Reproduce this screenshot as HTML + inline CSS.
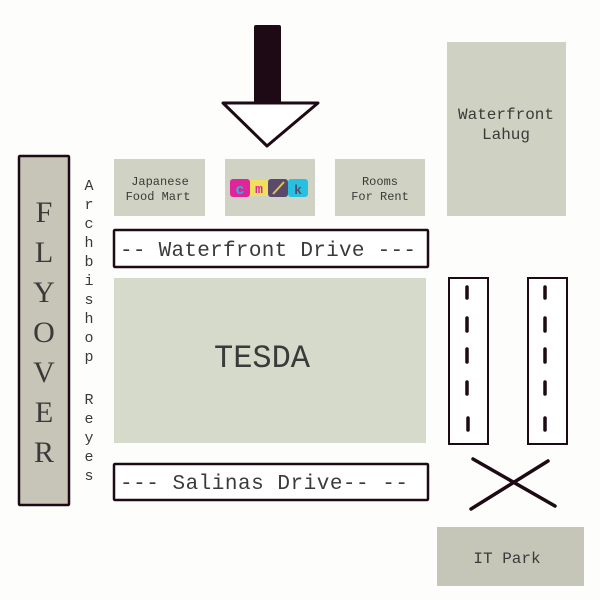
<!DOCTYPE html>
<html><head><style>body{margin:0;background:#fdfdfb}svg{display:block}text{font-family:"Liberation Mono",monospace;fill:#3a3a3a}text.s{font-family:"Liberation Serif",serif}</style></head><body>
<svg width="600" height="600" viewBox="0 0 600 600">
<rect width="600" height="600" fill="#fdfdfb"/>
<rect x="254" y="25" width="27" height="78" rx="2" fill="#1e0a14"/>
<polygon points="223,103 318,103 267,146" fill="#fff" stroke="#1e0a14" stroke-width="3" stroke-linejoin="round"/>
<rect x="447" y="42" width="119" height="174" fill="#cfd1c3"/>
<text x="506" y="119" font-size="16" text-anchor="middle">Waterfront</text>
<text x="506" y="139" font-size="16" text-anchor="middle">Lahug</text>
<rect x="114" y="159" width="91" height="57" fill="#d0d2c3"/>
<text x="160" y="185" font-size="12" text-anchor="middle">Japanese</text>
<text x="158" y="200" font-size="12" text-anchor="middle">Food Mart</text>
<rect x="225" y="159" width="90" height="57" fill="#d0d2c3"/>
<rect x="230" y="179" width="20" height="18" rx="3" fill="#e0259a"/>
<text x="240" y="194" font-size="15" font-weight="bold" text-anchor="middle" style="fill:#28b8e0">c</text>
<rect x="250" y="180" width="18" height="16" fill="#f0e060"/>
<text x="259" y="193" font-size="13" font-weight="bold" text-anchor="middle" style="fill:#e0259a">m</text>
<rect x="268" y="179" width="20" height="18" rx="3" fill="#5a4a6a"/>
<line x1="273" y1="194" x2="284" y2="182" stroke="#e0c050" stroke-width="2"/>
<rect x="288" y="179" width="20" height="18" rx="3" fill="#28c0e0"/>
<text x="298" y="194" font-size="13" font-weight="bold" text-anchor="middle" style="fill:#5a4a6a">k</text>
<rect x="335" y="159" width="90" height="57" fill="#d0d2c3"/>
<text x="380" y="185" font-size="12" text-anchor="middle">Rooms</text>
<text x="380" y="200" font-size="12" text-anchor="middle">For Rent</text>
<rect x="114" y="230" width="314" height="37" fill="#fff" stroke="#1e0a14" stroke-width="2.5" rx="1"/>
<text x="120" y="256" font-size="21" textLength="296" lengthAdjust="spacing" xml:space="preserve">-- Waterfront Drive ---</text>
<rect x="114" y="278" width="312" height="165" fill="#d6dacb"/>
<text x="262" y="367" font-size="32" text-anchor="middle">TESDA</text>
<rect x="114" y="464" width="314" height="36" fill="#fff" stroke="#1e0a14" stroke-width="2.5" rx="1"/>
<text x="120" y="489" font-size="21" textLength="288" lengthAdjust="spacing">--- Salinas Drive-- --</text>
<rect x="19" y="156" width="50" height="349" fill="#c6c5b7" stroke="#1e0a14" stroke-width="2.5" rx="1"/>
<g font-size="30" text-anchor="middle">
<text class="s" x="44" y="222">F</text><text class="s" x="44" y="262">L</text><text class="s" x="44" y="302">Y</text><text class="s" x="44" y="342">O</text><text class="s" x="44" y="382">V</text><text class="s" x="44" y="422">E</text><text class="s" x="44" y="462">R</text>
</g>
<g font-size="15" text-anchor="middle" style="fill:#666">
<text x="89" y="190">A</text><text x="89" y="209">r</text><text x="89" y="228">c</text><text x="89" y="247">h</text><text x="89" y="266">b</text><text x="89" y="285">i</text><text x="89" y="304">s</text><text x="89" y="323">h</text><text x="89" y="342">o</text><text x="89" y="361">p</text>
<text x="89" y="404">R</text><text x="89" y="423">e</text><text x="89" y="442">y</text><text x="89" y="461">e</text><text x="89" y="480">s</text>
</g>
<rect x="449" y="278" width="39" height="166" fill="#fff" stroke="#1e0a14" stroke-width="2"/>
<rect x="528" y="278" width="39" height="166" fill="#fff" stroke="#1e0a14" stroke-width="2"/>
<g stroke="#1e0a14" stroke-width="3.5" stroke-linecap="round">
<line x1="467" y1="287" x2="467" y2="298"/><line x1="467" y1="318" x2="467" y2="331"/><line x1="467" y1="349" x2="467" y2="362"/><line x1="467" y1="382" x2="467" y2="394"/><line x1="468" y1="418" x2="468" y2="430"/>
<line x1="545" y1="287" x2="545" y2="298"/><line x1="545" y1="318" x2="545" y2="331"/><line x1="545" y1="349" x2="545" y2="362"/><line x1="545" y1="382" x2="545" y2="394"/><line x1="545" y1="418" x2="545" y2="430"/>
<line x1="473" y1="459" x2="555" y2="506"/><line x1="471" y1="509" x2="548" y2="461"/>
</g>
<rect x="437" y="527" width="147" height="59" fill="#c6c6b8"/>
<text x="507" y="563" font-size="16" text-anchor="middle">IT Park</text>
</svg>
</body></html>
